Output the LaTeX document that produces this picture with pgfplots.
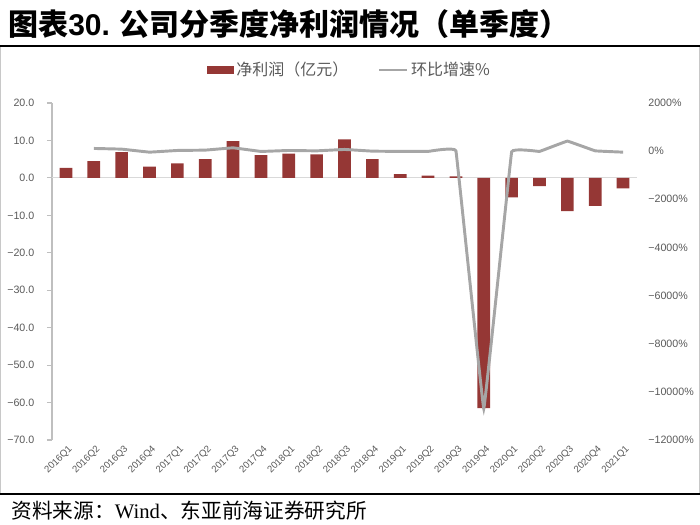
\documentclass[border=0pt]{standalone}
\usepackage{pgfplots}
\pgfplotsset{compat=1.18}
\usepackage{fontspec}
\setmainfont{Liberation Sans}
\newfontfamily\cjk{Noto Sans CJK SC}
\definecolor{barred}{RGB}{149,55,53}
\definecolor{linegray}{RGB}{166,166,166}
\definecolor{axgray}{RGB}{191,191,191}
\definecolor{zerogray}{RGB}{217,217,217}
\definecolor{labgray}{RGB}{89,89,89}
\definecolor{framegray}{RGB}{200,200,200}
\begin{document}
\begin{tikzpicture}
\path[use as bounding box] (0pt,0pt) rectangle (525pt,393.75pt);
% frame and rules
\draw[framegray, line width=0.5pt] (0.3pt,23pt) rectangle (524.7pt,359.25pt);
\draw[black, line width=1.8pt] (0pt,359.25pt) -- (525pt,359.25pt);
\draw[black, line width=1.6pt] (0pt,23pt) -- (525pt,23pt);
% title
\node[anchor=west, inner sep=0pt] at (6pt,375.5pt)
  {\fontsize{22.5}{25}\selectfont\bfseries\cjk 图表\textbf{\fontspec{Liberation Sans}30.} 公司分季度净利润情况（单季度）};
% source
\node[anchor=west, inner sep=0pt] at (8.5pt,10.5pt)
  {\fontsize{15.5}{17}\selectfont\cjk 资料来源：{\fontspec{Liberation Serif}Wind}、东亚前海证券研究所};
\begin{axis}[
  at={(39pt,63.75pt)}, anchor=south west,
  scale only axis, width=438.75pt, height=252.75pt,
  xmin=-0.5, xmax=20.5, ymin=-70, ymax=20,
  axis x line*=bottom, axis y line*=left,
  x axis line style={draw=none},
  y axis line style={axgray, line width=0.8pt, -},
  xtick={0,...,20},
  xticklabels={2016Q1,2016Q2,2016Q3,2016Q4,2017Q1,2017Q2,2017Q3,2017Q4,2018Q1,2018Q2,2018Q3,2018Q4,2019Q1,2019Q2,2019Q3,2019Q4,2020Q1,2020Q2,2020Q3,2020Q4,2021Q1},
  xtick style={draw=none},
  xticklabel style={rotate=45, anchor=east, inner sep=0.8pt, font=\fontsize{7.2}{8}\selectfont, text=labgray, yshift=-4pt, xshift=2pt},
  ytick={-70,-60,...,20},
  yticklabels={−70.0,−60.0,−50.0,−40.0,−30.0,−20.0,−10.0,0.0,10.0,20.0},
  ytick style={axgray, line width=0.8pt},
  tick align=outside, major tick length=3.75pt,
  yticklabel style={font=\fontsize{8}{9}\selectfont, text=labgray, xshift=-6pt},
  legend style={draw=none, fill=none, at={(0.509,1.098)}, anchor=center,
    legend columns=2, font=\cjk\fontsize{12}{13}\selectfont, text=labgray,
    /tikz/every even column/.append style={column sep=20pt}},
  clip=false,
]
\draw[zerogray, line width=0.8pt] (axis cs:-0.5,0) -- (axis cs:20.5,0);
\addplot[ybar, bar width=9.5pt, fill=barred, draw=none,
  legend image code/.code={\fill[barred] (0pt,-2.8pt) rectangle (20pt,2.8pt);}]
  coordinates {
  (0,2.7) (1,4.5) (2,6.9) (3,3.0) (4,3.9) (5,5.0) (6,9.8) (7,6.1) (8,6.5) (9,6.3)
  (10,10.3) (11,5.0) (12,1.0) (13,0.6) (14,0.4) (15,-61.5) (16,-5.2) (17,-2.2)
  (18,-8.9) (19,-7.5) (20,-2.8)};
\addlegendentry{净利润（亿元）}
\addlegendimage{linegray, line width=2.2pt,
  legend image code/.code={\draw[linegray, line width=2.2pt] (0pt,0pt) -- (21pt,0pt);}}
\addlegendentry{环比增速\%}
\end{axis}
\begin{axis}[
  at={(39pt,63.75pt)}, anchor=south west,
  scale only axis, width=438.75pt, height=252.75pt,
  xmin=-0.5, xmax=20.5, ymin=-12000, ymax=2000,
  axis y line*=right, axis x line=none,
  y axis line style={draw=none},
  scaled y ticks=false,
  ytick={-12000,-10000,...,2000},
  yticklabels={−12000\%,−10000\%,−8000\%,−6000\%,−4000\%,−2000\%,0\%,2000\%},
  ytick style={draw=none},
  yticklabel style={font=\fontsize{8}{9}\selectfont, text=labgray, xshift=5pt},
]
\addplot[linegray, line width=2.2pt, smooth, tension=0.06] coordinates {
  (1,112) (2,83) (3,-42) (4,28) (5,42) (6,138) (7,-12) (8,28) (9,12) (10,70)
  (11,0) (12,-12) (13,-12) (14,12) (15,-10700) (16,-30) (17,-12) (18,417)
  (19,12) (20,-42)};
\end{axis}
\end{tikzpicture}
\end{document}
